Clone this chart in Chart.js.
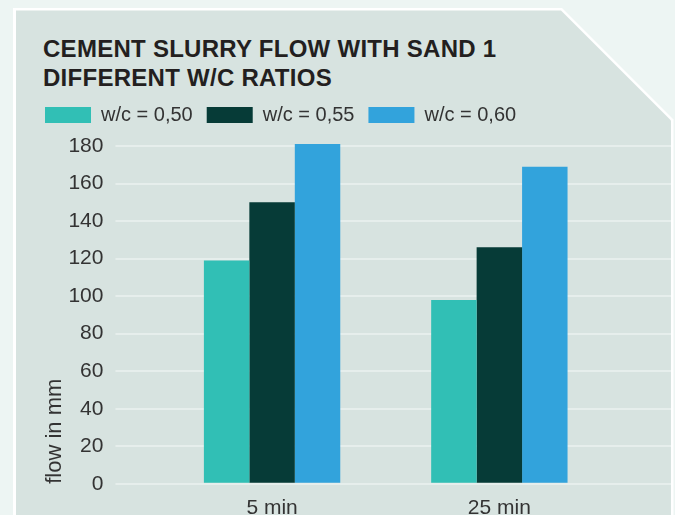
<!DOCTYPE html>
<html>
<head>
<meta charset="utf-8">
<script src="https://cdn.jsdelivr.net/npm/chart.js@4"></script>
<style>
  html, body { margin:0; padding:0; width:675px; height:515px; overflow:hidden; background:#edf5f3; }
  #frame { position:absolute; left:0; top:0; width:675px; height:540px; background:#ffffff;
    clip-path: polygon(13px 8px, 562px 8px, 673.5px 119.5px, 673.5px 540px, 13px 540px); }
  #panel { position:absolute; left:0; top:0; width:675px; height:540px; background:#d7e3e0;
    clip-path: polygon(16px 10.5px, 561px 10.5px, 671px 120.5px, 671px 540px, 16px 540px); }
  #title { position:absolute; left:43px; top:34px; margin:0; letter-spacing:0.27px;
    font: bold 24px "Liberation Sans", Arial, sans-serif; line-height:29px; color:#231f20; }
  #wrap { position:absolute; left:0; top:0; width:675px; height:533px; }
</style>
</head>
<body>
<div id="frame"></div>
<div id="panel"></div>
<h1 id="title">CEMENT SLURRY FLOW WITH SAND 1<br>DIFFERENT W/C RATIOS</h1>
<div id="wrap"><canvas id="flowChart"></canvas></div>
<script>
const categories = ['5 min', '25 min'];
const seriesNames = ['w/c = 0,50', 'w/c = 0,55', 'w/c = 0,60'];
const wc050 = [119, 98];
const wc055 = [150, 126];
const wc060 = [181, 169];
const yMin = 0, yMax = 180, yStep = 20;

const gridCol = '#e6eeec';
const txt = '#333333';
const font = 'Liberation Sans, Arial, sans-serif';

const ctx = document.getElementById('flowChart');

// extra room under the legend
const legendGap = {
    id:'legendGap',
    beforeInit(chart){
        const fit = chart.legend.fit;
        chart.legend.fit = function(){
            fit.bind(chart.legend)();
            this.height += 11;
        };
    }
};

const flowChart = new Chart(ctx, {
    type:'bar',
    data:{labels:categories, datasets:[
        {label:seriesNames[0], data:wc050, backgroundColor:'#31bfb5'},
        {label:seriesNames[1], data:wc055, backgroundColor:'#063b37'},
        {label:seriesNames[2], data:wc060, backgroundColor:'#32a3dc'}
    ]},
    options:{
        responsive:true,
        maintainAspectRatio:false,
        animation:false,
        layout:{padding:{left:31, right:4, top:91, bottom:0}},
        datasets:{bar:{categoryPercentage:0.6, barPercentage:1, borderWidth:0, clip:false}},
        plugins:{
            tooltip:{enabled:false},
            legend:{position:'top', align:'start',
                labels:{boxWidth:46, boxHeight:16, padding:14, color:txt, font:{family:font, size:20}}}
        },
        scales:{
            x:{grid:{display:false, drawTicks:false}, border:{display:false},
               ticks:{color:txt, padding:12, font:{family:font, size:21}}},
            y:{min:yMin, max:yMax, border:{display:false},
               ticks:{stepSize:yStep, color:txt, padding:12, font:{family:font, size:21}},
               grid:{color:gridCol, lineWidth:2, tickLength:43, tickColor:gridCol},
               title:{display:true, text:'flow in mm', align:'start', color:txt,
                      font:{family:font, size:22}, padding:{top:11, bottom:-12}}},
            y2:{position:'right', min:yMin, max:yMax, border:{display:false},
                ticks:{stepSize:yStep, display:false},
                grid:{drawOnChartArea:false, color:gridCol, lineWidth:2, tickLength:58, tickColor:gridCol}}
        }
    },
    plugins:[legendGap]
});
</script>
</body>
</html>
